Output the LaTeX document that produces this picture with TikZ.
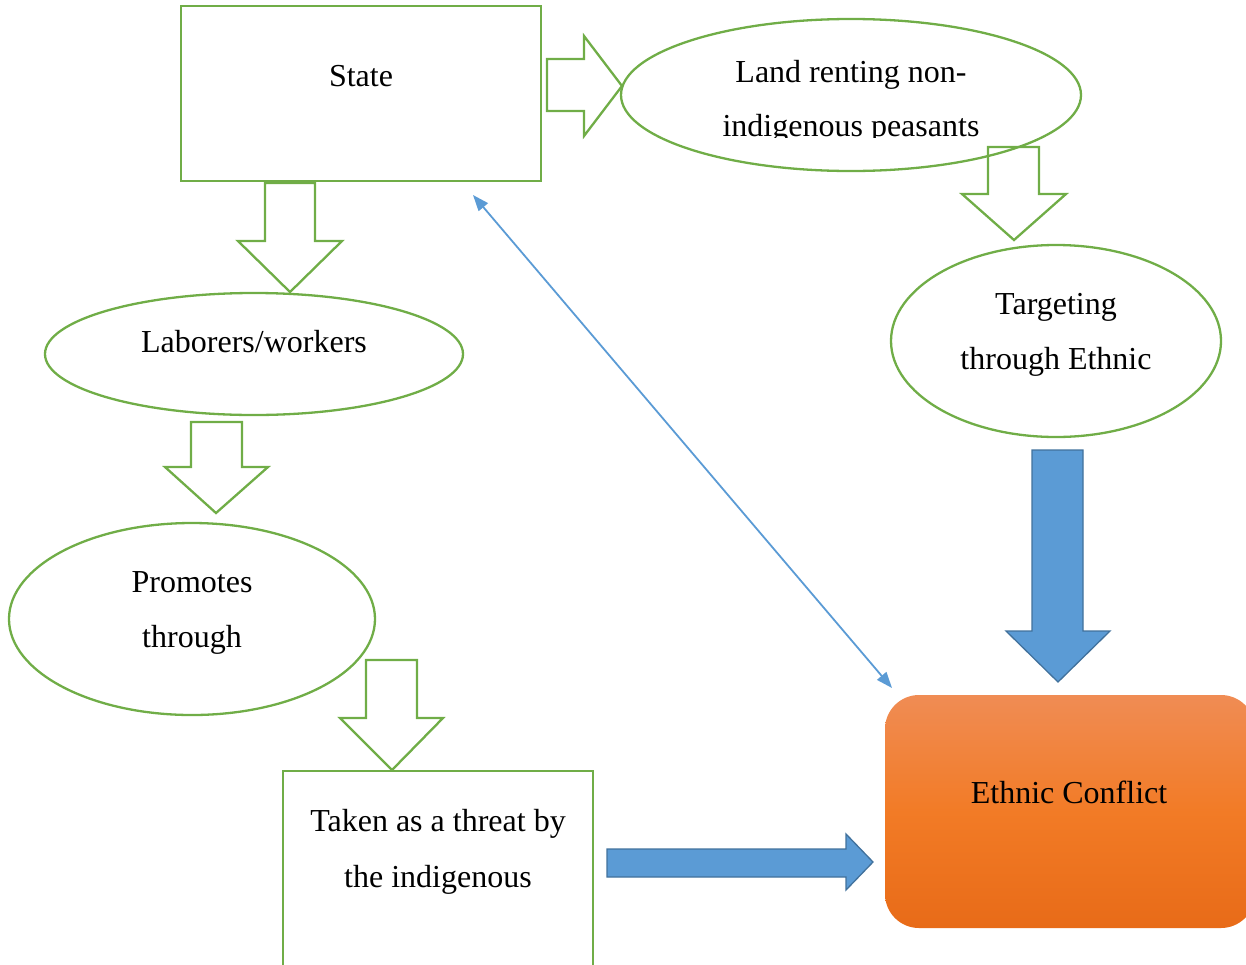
\documentclass[tikz,border=0pt]{standalone}
\usepackage{fontspec}
\setmainfont{Liberation Serif}
\usetikzlibrary{shapes.geometric,arrows.meta}
\definecolor{grn}{RGB}{112,173,71}
\definecolor{blu}{RGB}{91,155,213}
\definecolor{bluedge}{RGB}{65,113,156}
\definecolor{orT}{RGB}{240,140,84}
\definecolor{orM}{RGB}{242,123,38}
\definecolor{orB}{RGB}{232,107,24}
\begin{document}
\begin{tikzpicture}[x=1pt,y=-1pt,
  gline/.style={draw=grn,line width=2.3pt},
  gbox/.style={gline,rectangle,inner sep=0pt},
  gell/.style={gline,ellipse,inner sep=0pt},
  garrow/.style={draw=grn,line width=2.3pt,line join=miter},
  barrow/.style={draw=bluedge,fill=blu,line width=1.3pt,line join=miter},
  txt/.style={font=\fontsize{32}{55}\selectfont,anchor=base,inner sep=0pt},
  thin/.style={draw=blu,line width=1.8pt,{Triangle[length=16pt,width=12pt]}-{Triangle[length=16pt,width=12pt]}}]
\useasboundingbox (0,0) rectangle (1246,964);
% shapes
\node[gbox,minimum width=360pt,minimum height=175pt] (state) at (361,93.5) {};
\node[gell,minimum width=460pt,minimum height=152pt] (land) at (851,95) {};
\node[gell,minimum width=330pt,minimum height=192pt] (target) at (1056,341) {};
\node[gell,minimum width=418pt,minimum height=122pt] (labor) at (254,354) {};
\node[gell,minimum width=366pt,minimum height=192pt] (promo) at (192,619) {};
\node[gbox,minimum width=310pt,minimum height=200pt] (threat) at (438,871) {};
\node[rectangle,rounded corners=34pt,minimum width=370pt,minimum height=233pt,inner sep=0pt,
  top color=orT,bottom color=orB,middle color=orM] (conflict) at (1070,811.5) {};
% green block arrows
\draw[garrow] (547,59) -- (584,59) -- (584,36) -- (622,86) -- (584,136) -- (584,111) -- (547,111) -- cycle;
\draw[garrow] (988,147) -- (1039,147) -- (1039,194) -- (1066,194) -- (1014,240) -- (962,194) -- (988,194) -- cycle;
\draw[garrow] (265,183) -- (315,183) -- (315,241) -- (342,241) -- (290,292) -- (238,241) -- (265,241) -- cycle;
\draw[garrow] (191,422) -- (242,422) -- (242,467) -- (268,467) -- (216,513) -- (165,467) -- (191,467) -- cycle;
\draw[garrow] (366,660) -- (417,660) -- (417,718) -- (443,718) -- (392,770) -- (340,718) -- (366,718) -- cycle;
% blue block arrows
\draw[barrow] (1032,450) -- (1083,450) -- (1083,631) -- (1110,631) -- (1058,682) -- (1006,631) -- (1032,631) -- cycle;
\draw[barrow] (607,849) -- (846,849) -- (846,834) -- (873,862) -- (846,890) -- (846,877) -- (607,877) -- cycle;
% thin double arrow
\coordinate (sa) at (473,195);
\coordinate (sb) at (892,688);
\draw[thin] (sa) -- (sb);
% texts
\node[txt] (tstate) at (361,86) {State};
\begin{scope}
\clip (600,0) rectangle (1100,137);
\node[txt] (tland1) at (851,82) {Land renting non-};
\node[txt] (tland2) at (851,136) {indigenous peasants};
\end{scope}
\node[txt] (ttar1) at (1056,314) {Targeting};
\node[txt] (ttar2) at (1056,369) {through Ethnic};
\node[txt] (tlab) at (254,352) {Laborers/workers};
\node[txt] (tpro1) at (192,592) {Promotes};
\node[txt] (tpro2) at (192,647) {through};
\node[txt] (tthr1) at (438,831) {Taken as a threat by};
\node[txt] (tthr2) at (438,887) {the indigenous};
\node[txt] (tcon) at (1069,803) {Ethnic Conflict};
\end{tikzpicture}
\end{document}
